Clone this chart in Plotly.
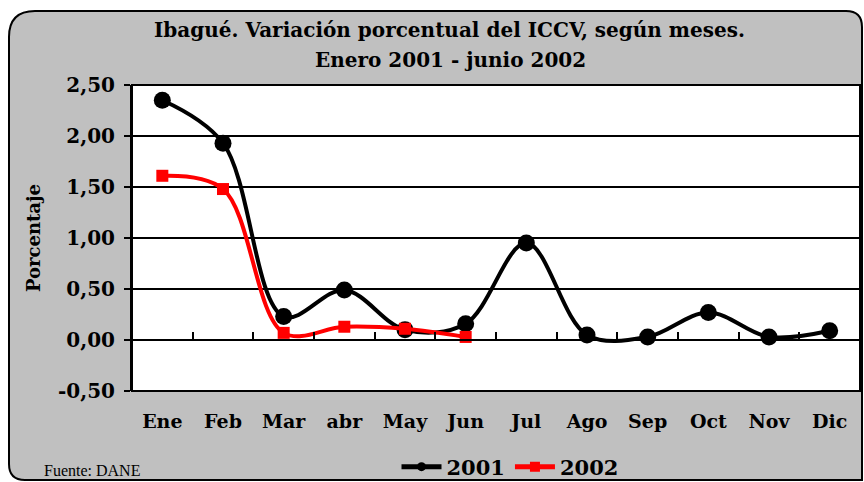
import plotly.graph_objects as go

# Monthly percentage change of the ICCV, Ibagué
MONTHS = ["Ene", "Feb", "Mar", "abr", "May", "Jun", "Jul", "Ago", "Sep", "Oct", "Nov", "Dic"]
ICCV_2001 = [2.35, 1.93, 0.23, 0.49, 0.10, 0.16, 0.95, 0.05, 0.03, 0.27, 0.03, 0.09]
ICCV_2002 = [1.61, 1.48, 0.07, 0.13, 0.11, 0.03]
Y_TICKS = [-0.5, 0.0, 0.5, 1.0, 1.5, 2.0, 2.5]
Y_RANGE = [-0.5, 2.5]

W, H = 864, 482
ML, MR, MT, MB = 132, 4, 85, 91
PW, PH = W - ML - MR, H - MT - MB

SERIF = "DejaVu Serif"
GRAY = "#C0C0C0"


def px_x(px):
    return (px - ML) / PW


def px_y(py):
    return (H - MB - py) / PH


def rounded_rect(x0, y0, x1, y1, r_tl, r_tr, r_bl):
    # path in paper units built from pixel positions
    X = px_x
    Y = px_y
    rx = lambda r: r / PW
    p = []
    p.append(f"M{X(x0)},{Y(y0 + r_tl)}")
    p.append(f"Q{X(x0)},{Y(y0)} {X(x0) + rx(r_tl)},{Y(y0)}")
    p.append(f"L{X(x1) - rx(r_tr)},{Y(y0)}")
    p.append(f"Q{X(x1)},{Y(y0)} {X(x1)},{Y(y0 + r_tr)}")
    p.append(f"L{X(x1)},{Y(y1)}")
    p.append(f"L{X(x0) + rx(r_bl)},{Y(y1)}")
    p.append(f"Q{X(x0)},{Y(y1)} {X(x0)},{Y(y1 - r_bl)}")
    p.append("Z")
    return " ".join(p)


def fmt(v):
    return f"{v:.2f}".replace(".", ",")


fig = go.Figure()

fig.add_trace(go.Scatter(
    x=MONTHS, y=ICCV_2001, mode="lines+markers", name="2001",
    line=dict(color="black", width=4, shape="spline", smoothing=1.0),
    marker=dict(symbol="circle", size=17, color="black"),
    showlegend=False,
))
fig.add_trace(go.Scatter(
    x=MONTHS[:len(ICCV_2002)], y=ICCV_2002, mode="lines+markers", name="2002",
    line=dict(color="#FF0000", width=4, shape="spline", smoothing=1.0),
    marker=dict(symbol="square", size=12, color="#FF0000"),
    showlegend=False,
))

# legend entries with smaller symbols
fig.add_trace(go.Scatter(
    x=[None], y=[None], mode="lines+markers", name="2001",
    line=dict(color="black", width=5), marker=dict(symbol="circle", size=9, color="black"),
))
fig.add_trace(go.Scatter(
    x=[None], y=[None], mode="lines+markers", name="2002",
    line=dict(color="#FF0000", width=5), marker=dict(symbol="square", size=10, color="#FF0000"),
))

# carrier for the category axis drawn through zero
fig.add_trace(go.Scatter(
    x=MONTHS, y=[None] * len(MONTHS), xaxis="x2", mode="lines",
    showlegend=False, hoverinfo="skip",
))

zero_pos = (0 - Y_RANGE[0]) / (Y_RANGE[1] - Y_RANGE[0])

fig.update_layout(
    width=W, height=H,
    margin=dict(l=ML, r=MR, t=MT, b=MB, pad=0, autoexpand=False),
    paper_bgcolor="white",
    plot_bgcolor="white",
    showlegend=True,
    xaxis=dict(
        type="category", categoryorder="array", categoryarray=MONTHS,
        range=[-0.5, len(MONTHS) - 0.5],
        showgrid=False, zeroline=False, showline=False, ticks="",
        tickfont=dict(family=SERIF, size=19, color="black", weight="bold"),
        ticklabelstandoff=17,
    ),
    xaxis2=dict(
        type="category", overlaying="x", matches="x", anchor="free", position=zero_pos,
        showgrid=False, zeroline=False, showline=True, linecolor="black", linewidth=2,
        ticks="inside", tickson="boundaries", ticklen=7, tickwidth=2, tickcolor="black",
        showticklabels=False,
    ),
    yaxis=dict(
        range=Y_RANGE, tickvals=Y_TICKS, ticktext=[fmt(v) for v in Y_TICKS],
        showgrid=True, gridcolor="black", gridwidth=1.5,
        zeroline=False, showline=True, linecolor="black", linewidth=2,
        ticks="outside", ticklen=6, tickwidth=2, tickcolor="black",
        tickfont=dict(family=SERIF, size=20, color="black", weight="bold"),
        ticklabelstandoff=5,
        title=dict(text="Porcentaje", standoff=13,
                   font=dict(family=SERIF, size=18, color="black", weight="bold")),
    ),
    legend=dict(
        orientation="h", x=px_x(510), xanchor="center", y=px_y(467), yanchor="middle",
        font=dict(family=SERIF, size=21, color="black", weight="bold"),
        bgcolor="rgba(0,0,0,0)", itemwidth=40, tracegroupgap=0,
    ),
    shapes=[
        dict(type="path", xref="paper", yref="paper", layer="below",
             path=rounded_rect(9, 11, 862, 480, 26, 16, 16),
             fillcolor=GRAY, line=dict(color="black", width=2)),
        dict(type="rect", xref="paper", yref="paper", layer="below",
             x0=0, x1=1, y0=0, y1=1, fillcolor="white", line=dict(width=0)),
        dict(type="rect", xref="paper", yref="paper", layer="above",
             x0=0, x1=1, y0=0, y1=1, line=dict(color="black", width=2)),
    ],
    annotations=[
        dict(text="Ibagué. Variación porcentual del ICCV, según meses.",
             xref="paper", yref="paper", x=px_x(449), y=px_y(30),
             xanchor="center", yanchor="middle", showarrow=False,
             font=dict(family=SERIF, size=20, color="black", weight="bold")),
        dict(text="Enero 2001 - junio 2002",
             xref="paper", yref="paper", x=px_x(450), y=px_y(60),
             xanchor="center", yanchor="middle", showarrow=False,
             font=dict(family=SERIF, size=20, color="black", weight="bold")),
        dict(text="Fuente: DANE",
             xref="paper", yref="paper", x=px_x(42), y=px_y(470),
             xanchor="left", yanchor="middle", showarrow=False,
             font=dict(family="Times New Roman", size=16, color="black")),
    ],
)

fig.write_html("out.html")
